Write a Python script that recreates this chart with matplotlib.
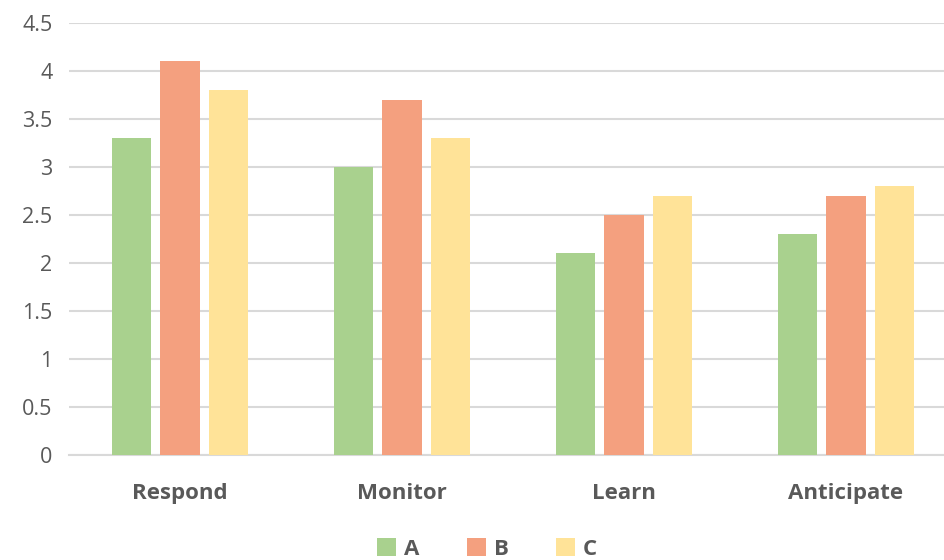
import numpy as np
import matplotlib.pyplot as plt

categories = ['Respond', 'Monitor', 'Learn', 'Anticipate']
series_names = ['A', 'B', 'C']
values_a = [3.3, 3.0, 2.1, 2.3]
values_b = [4.1, 3.7, 2.5, 2.7]
values_c = [3.8, 3.3, 2.7, 2.8]
y_ticks = [0, 0.5, 1, 1.5, 2, 2.5, 3, 3.5, 4, 4.5]
y_tick_labels = ['0', '0.5', '1', '1.5', '2', '2.5', '3', '3.5', '4', '4.5']

colors = ['#A9D18E', '#F4A07F', '#FFE398']
text_color = '#595959'

plt.rcParams['font.family'] = ['Open Sans', 'DejaVu Sans']

fig = plt.figure(figsize=(9.45, 5.6), dpi=100)
# axes placed in pixel terms: y=0 at 455px, 4.5 at 23px, left at 69px
ax = fig.add_axes([69 / 945, (560 - 455) / 560, (945 - 69) / 945, (455 - 23) / 560])

x = np.arange(len(categories))
width = 0.176
step = 0.22
for i, (name, vals) in enumerate(zip(series_names, [values_a, values_b, values_c])):
    ax.bar(x + (i - 1) * step, vals, width, color=colors[i], label=name, zorder=3)

ax.set_ylim(0, 4.5)
ax.set_xlim(-0.5, 3.5 - 12 / 222)
ax.set_yticks(y_ticks)
ax.set_yticklabels(y_tick_labels, fontsize=15.5, color=text_color)
ax.set_xticks(x)
ax.set_xticklabels(categories, fontsize=16, fontweight='bold', color=text_color)
ax.tick_params(axis='both', length=0)
ax.tick_params(axis='x', pad=20)
ax.tick_params(axis='y', pad=12)

ax.yaxis.grid(True, color='#D9D9D9', linewidth=1.5, zorder=0)
for s in ['top', 'right', 'left']:
    ax.spines[s].set_visible(False)
ax.spines['bottom'].set_color('#D9D9D9')
ax.spines['bottom'].set_linewidth(1.5)

leg = fig.legend(loc='center', bbox_to_anchor=(487 / 945, 1 - 549 / 560), ncol=3,
                 frameon=False, handlelength=0.85, handleheight=0.85, columnspacing=2.15,
                 handletextpad=0.35, prop={'size': 16, 'weight': 'bold'})
for t in leg.get_texts():
    t.set_color(text_color)

fig.savefig('out.png', dpi=100)
